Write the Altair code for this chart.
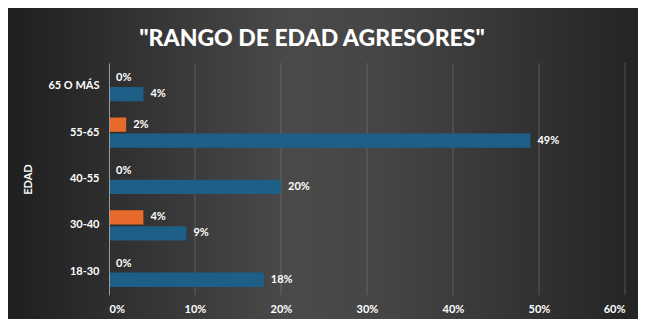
import altair as alt
import pandas as pd

categorias = ["65 O MÁS", "55-65", "40-55", "30-40", "18-30"]
serie_naranja = [0, 2, 0, 4, 0]
serie_azul = [4, 49, 20, 9, 18]
series = ["Serie 1", "Serie 2"]
colores = ["#e8692c", "#1d5f87"]
ticks = [0, 0.1, 0.2, 0.3, 0.4, 0.5, 0.6]

rows = []
for c, a, b in zip(categorias, serie_naranja, serie_azul):
    rows.append({"edad": c, "serie": series[0], "valor": a / 100})
    rows.append({"edad": c, "serie": series[1], "valor": b / 100})
df = pd.DataFrame(rows)
df_ticks = pd.DataFrame({"t": ticks[1:]})

FONT = "Lato"
W, H = 516, 232
PAD = {"left": 101, "top": 55, "right": 13, "bottom": 24}
xscale = alt.Scale(domain=[0, 0.6], nice=False)

# decorative background gradient (not data)
fondo = alt.Chart(pd.DataFrame({"k": [0]})).mark_rect(
    clip=False,
    color={
        "gradient": "linear",
        "x1": 0, "y1": 0, "x2": 1, "y2": 0,
        "stops": [
            {"offset": 0, "color": "#1f1f1f"},
            {"offset": 0.45, "color": "#4a4a4a"},
            {"offset": 0.6, "color": "#454545"},
            {"offset": 1, "color": "#242424"},
        ],
    },
).encode(
    x=alt.value(-PAD["left"]),
    x2=alt.value(W + PAD["right"]),
    y=alt.value(-PAD["top"]),
    y2=alt.value(H + PAD["bottom"]),
)

grid = alt.Chart(df_ticks).mark_rule(color="#8a8a8a", opacity=0.45, strokeWidth=1).encode(
    x=alt.X("t:Q", scale=xscale),
)

base = alt.Chart(df).encode(
    y=alt.Y(
        "edad:N",
        sort=categorias,
        scale=alt.Scale(paddingInner=0.35, paddingOuter=0.175),
        axis=alt.Axis(
            title="EDAD",
            titleColor="white",
            titleFont=FONT,
            titleFontSize=11,
            titleFontWeight="bold",
            titlePadding=14,
            labelColor="white",
            labelFont=FONT,
            labelFontSize=11,
            labelFontWeight="bold",
            labelPadding=10,
            ticks=False,
            domainColor="#9a9a9a",
            grid=False,
            zindex=1,
        ),
    ),
    yOffset=alt.YOffset("serie:N", sort=series, scale=alt.Scale(paddingInner=0.1)),
)

bars = base.mark_bar().encode(
    x=alt.X(
        "valor:Q",
        scale=xscale,
        axis=alt.Axis(
            values=ticks,
            format=".0%",
            title=None,
            domain=False,
            ticks=False,
            grid=False,
            labelColor="white",
            labelFont=FONT,
            labelFontSize=11,
            labelFontWeight="bold",
            labelPadding=8,
            zindex=1,
        ),
    ),
    color=alt.Color("serie:N", scale=alt.Scale(domain=series, range=colores), legend=None),
)

text = base.mark_text(
    align="left", baseline="middle", dx=7, color="white",
    font=FONT, fontSize=11, fontWeight="bold",
).encode(
    x=alt.X("valor:Q"),
    text=alt.Text("valor:Q", format=".0%"),
)

chart = (
    alt.layer(fondo, grid, bars, text)
    .properties(
        width=W,
        height=H,
        autosize=alt.AutoSizeParams(type="none"),
        padding=PAD,
        background="#333333",
        title=alt.TitleParams(
            '"RANGO DE EDAD AGRESORES"',
            color="white",
            font=FONT,
            fontSize=23,
            fontWeight=900,
            anchor="middle",
            dx=-55,
            offset=-43,
            zindex=1,
        ),
    )
    .configure_view(stroke=None)
)

chart.save("out.html", embed_options={"renderer": "svg", "actions": False})
